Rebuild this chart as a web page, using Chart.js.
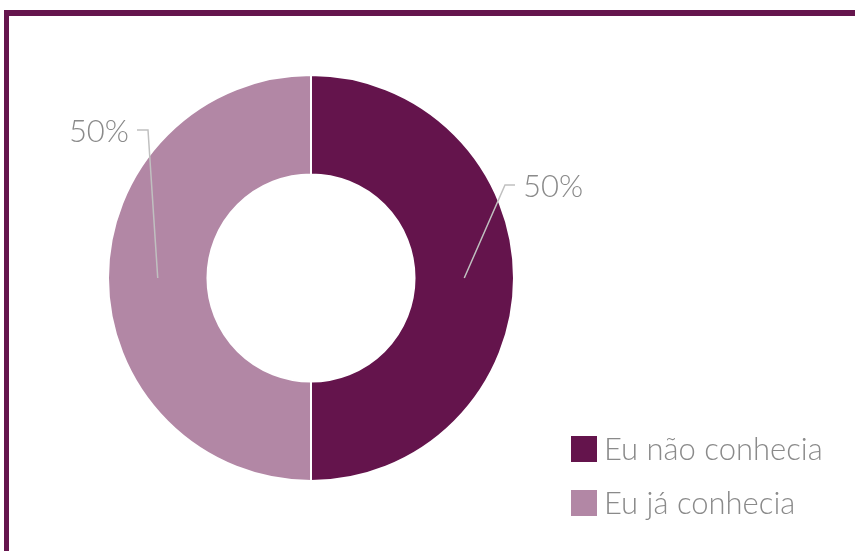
<!DOCTYPE html>
<html>
<head>
<meta charset="utf-8">
<script src="https://cdn.jsdelivr.net/npm/chart.js@4"></script>
<style>
  html, body { margin: 0; padding: 0; background: #fff; }
  #wrap { position: relative; width: 855px; height: 551px; overflow: hidden; }
  #frame { position: absolute; left: 4px; top: 10px; width: 900px; height: 600px;
           border-top: 6px solid #65154d; border-left: 5px solid #65154d; }
  canvas { position: absolute; left: 0; top: 0; }
</style>
</head>
<body>
<div id="wrap">
  <div id="frame"></div>
  <canvas id="chart" width="855" height="551"></canvas>
</div>
<script>
const categories = ["Eu não conhecia", "Eu já conhecia"];
const values = [50, 50];
const colors = ["#64144c", "#b287a5"];

// where each percentage label sits, relative to the ring centre
const labelSpots = [
    { elbowX: 194, elbowY: -93, endX: 204, side: "left" },
    { elbowX: -163, elbowY: -148, endX: -174, side: "right" }
];

const textFont = "300 31px Lato, 'Open Sans', sans-serif";
const textColor = "#8a8a8a";

const leaderPlugin = {
    id: 'leaders',
    afterDatasetsDraw(chart) {
        const ctx = chart.ctx;
        const meta = chart.getDatasetMeta(0);
        const total = values.reduce((a, b) => a + b, 0);
        meta.data.forEach((arc, i) => {
            const mid = (arc.startAngle + arc.endAngle) / 2;
            const r = (arc.innerRadius + arc.outerRadius) / 2;
            const sx = arc.x + Math.cos(mid) * r;
            const sy = arc.y + Math.sin(mid) * r;
            const spot = labelSpots[i];
            const ex = arc.x + spot.elbowX, ey = arc.y + spot.elbowY;
            const tx = arc.x + spot.endX;
            ctx.save();
            ctx.strokeStyle = "#c0c0c0";
            ctx.lineWidth = 1.5;
            ctx.beginPath();
            ctx.moveTo(sx, sy);
            ctx.lineTo(ex, ey);
            ctx.lineTo(tx, ey);
            ctx.stroke();
            ctx.font = textFont;
            ctx.fillStyle = textColor;
            ctx.textBaseline = "middle";
            const pct = Math.round(values[i] / total * 100) + "%";
            if (spot.side === "left") {
                ctx.textAlign = "left";
                ctx.fillText(pct, tx + 8, ey + 2);
            } else {
                ctx.textAlign = "right";
                ctx.fillText(pct, tx - 8, ey + 2);
            }
            ctx.restore();
        });

        // legend
        ctx.save();
        ctx.font = textFont;
        ctx.textAlign = "left";
        ctx.textBaseline = "middle";
        categories.forEach((name, i) => {
            const y = 436 + i * 54;
            ctx.fillStyle = colors[i];
            ctx.fillRect(571, y, 26, 26);
            ctx.fillStyle = textColor;
            ctx.fillText(name, 604, y + 14);
        });
        ctx.restore();
    }
};

new Chart(document.getElementById('chart'), {
    type: 'doughnut',
    data: {
        labels: categories,
        datasets: [{
            data: values,
            backgroundColor: colors,
            borderColor: "#ffffff",
            borderWidth: 2
        }]
    },
    options: {
        responsive: false,
        animation: false,
        cutout: '51%',
        layout: { padding: { left: 107, right: 340, top: 74, bottom: 69 } },
        plugins: {
            legend: { display: false },
            tooltip: { enabled: false }
        }
    },
    plugins: [leaderPlugin]
});
</script>
</body>
</html>
